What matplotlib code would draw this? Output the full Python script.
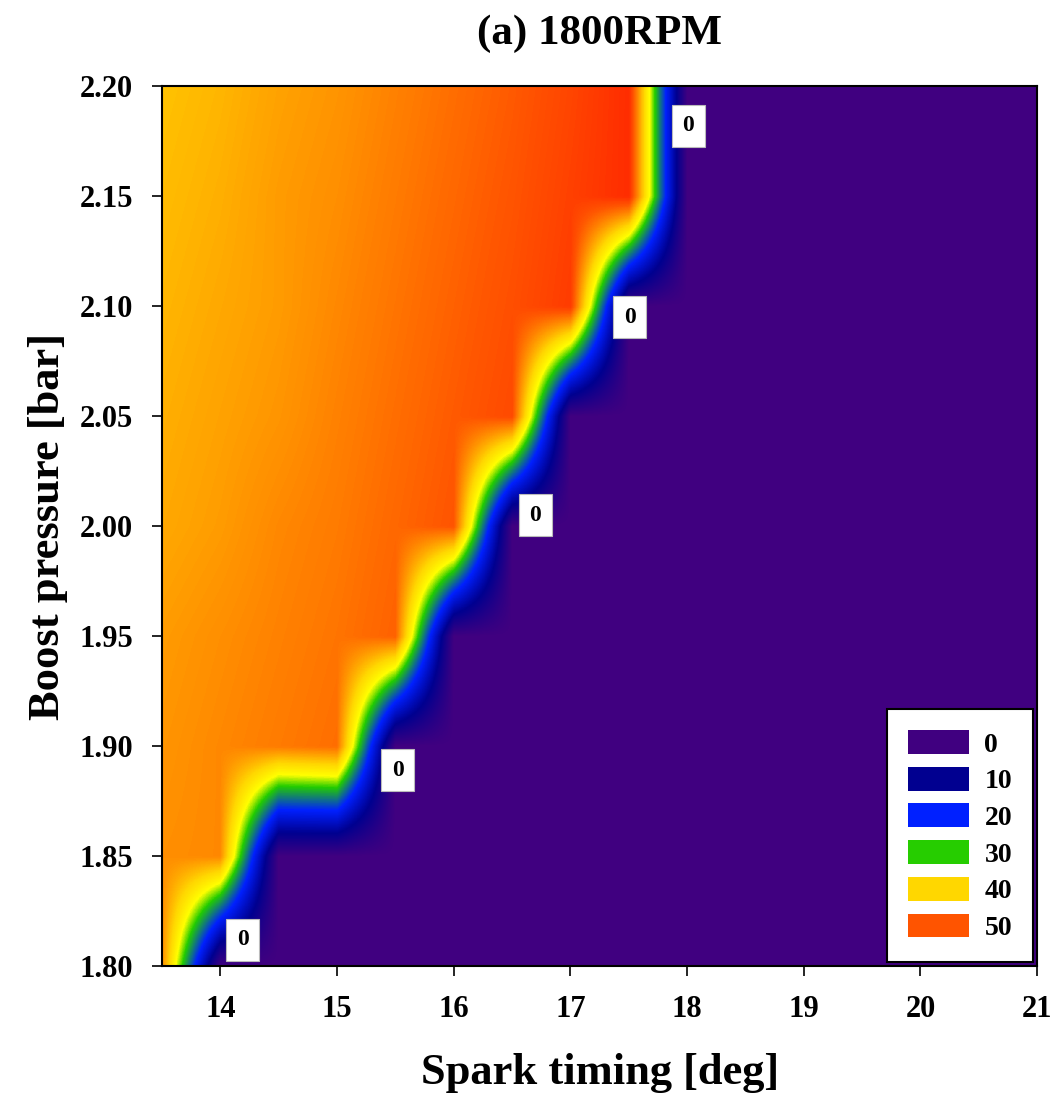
import numpy as np
import matplotlib
matplotlib.use('Agg')
import matplotlib.pyplot as plt
from matplotlib.colors import LinearSegmentedColormap, Normalize
from matplotlib.patches import Patch

# measured grid (spark timing sweep at each boost level), zero beyond the knock limit
spark_timing = [13.5, 14.0, 14.5, 15.0, 15.5, 16.0, 16.5, 17.0, 17.5,
                18.0, 18.5, 19.0, 19.5, 20.0, 20.5, 21.0]
boost_pressure = [1.80, 1.85, 1.90, 1.95, 2.00, 2.05, 2.10, 2.15, 2.20]

# non-zero readings per boost level, starting at 13.5 deg
row_180 = [46.0]
row_185 = [45.5, 46.0]
row_190 = [45.0, 46.0, 47.0, 48.0]
row_195 = [44.5, 45.5, 46.5, 47.5, 49.0]
row_200 = [43.5, 44.5, 46.0, 47.0, 48.5, 50.0]
row_205 = [43.0, 44.0, 45.0, 46.5, 48.0, 49.5, 51.0]
row_210 = [42.5, 43.5, 44.5, 46.0, 47.5, 49.0, 50.5, 52.5]
row_215 = [42.0, 43.0, 44.5, 45.5, 47.0, 48.5, 50.0, 52.0, 54.0]
row_220 = [41.5, 42.5, 44.0, 45.0, 46.5, 48.0, 49.5, 51.5, 54.0]

legend_levels = [0, 10, 20, 30, 40, 50]

# where the "0" contour labels sit (spark, boost)
zero_label_spark = [14.19, 15.52, 16.70, 17.51, 18.01]
zero_label_boost = [1.812, 1.889, 2.005, 2.095, 2.182]

rows = [row_180, row_185, row_190, row_195, row_200, row_205, row_210, row_215, row_220]
Z = np.zeros((len(boost_pressure), len(spark_timing)))
for i, r in enumerate(rows):
    Z[i, :len(r)] = r

vmax = 56.0
nodes = [(0, '#400080'), (10, '#000090'), (20, '#0020FF'), (30, '#22CC00'),
         (35, '#FFFF00'), (40, '#FFD700'), (50, '#FF5500'), (56, '#FF1A00')]
cmap = LinearSegmentedColormap.from_list('knock', [(v / vmax, c) for v, c in nodes])
norm = Normalize(0, vmax)

plt.rcParams['font.family'] = 'Liberation Serif'
plt.rcParams['font.weight'] = 'bold'

fig = plt.figure(figsize=(10.64, 11.09), dpi=100)
ax = fig.add_axes([0.1523, 0.1289, 0.8224, 0.7935])

dx = (spark_timing[1] - spark_timing[0]) / 2
dy = (boost_pressure[1] - boost_pressure[0]) / 2
ax.imshow(Z, origin='lower', cmap=cmap, norm=norm, aspect='auto',
          interpolation='bilinear', interpolation_stage='data',
          extent=[spark_timing[0] - dx, spark_timing[-1] + dx,
                  boost_pressure[0] - dy, boost_pressure[-1] + dy])
ax.set_xlim(13.5, 21)
ax.set_ylim(1.80, 2.20)

for sx, by in zip(zero_label_spark, zero_label_boost):
    ax.text(sx, by, '0', ha='center', va='center', fontsize=17, fontweight='bold',
            bbox=dict(boxstyle='square,pad=0.45', fc='white', ec='#bbbbbb', lw=0.8))

ax.set_xticks(np.arange(14, 22, 1))
ax.set_yticks(np.arange(1.80, 2.201, 0.05))
ax.set_yticklabels(['%.2f' % v for v in np.arange(1.80, 2.201, 0.05)])
ax.tick_params(direction='out', length=7, width=1.2, labelsize=22, pad=14)
for s in ax.spines.values():
    s.set_linewidth(1.5)

ax.set_xlabel('Spark timing [deg]', fontsize=32, fontweight='bold', labelpad=21)
ax.set_ylabel('Boost pressure [bar]', fontsize=32, fontweight='bold', labelpad=8)
ax.set_title('(a) 1800RPM', fontsize=31, fontweight='bold', pad=30)

handles = [Patch(facecolor=cmap(norm(v)), edgecolor='none') for v in legend_levels]
leg = ax.legend(handles, [str(v) for v in legend_levels], loc='lower right',
                fontsize=20, handlelength=2.2, handleheight=0.95, handletextpad=0.55,
                labelspacing=0.33, borderpad=0.75, borderaxespad=0.15,
                fancybox=False, framealpha=1, edgecolor='black')
leg.get_frame().set_linewidth(1.5)

fig.savefig('out.png', dpi=100)
